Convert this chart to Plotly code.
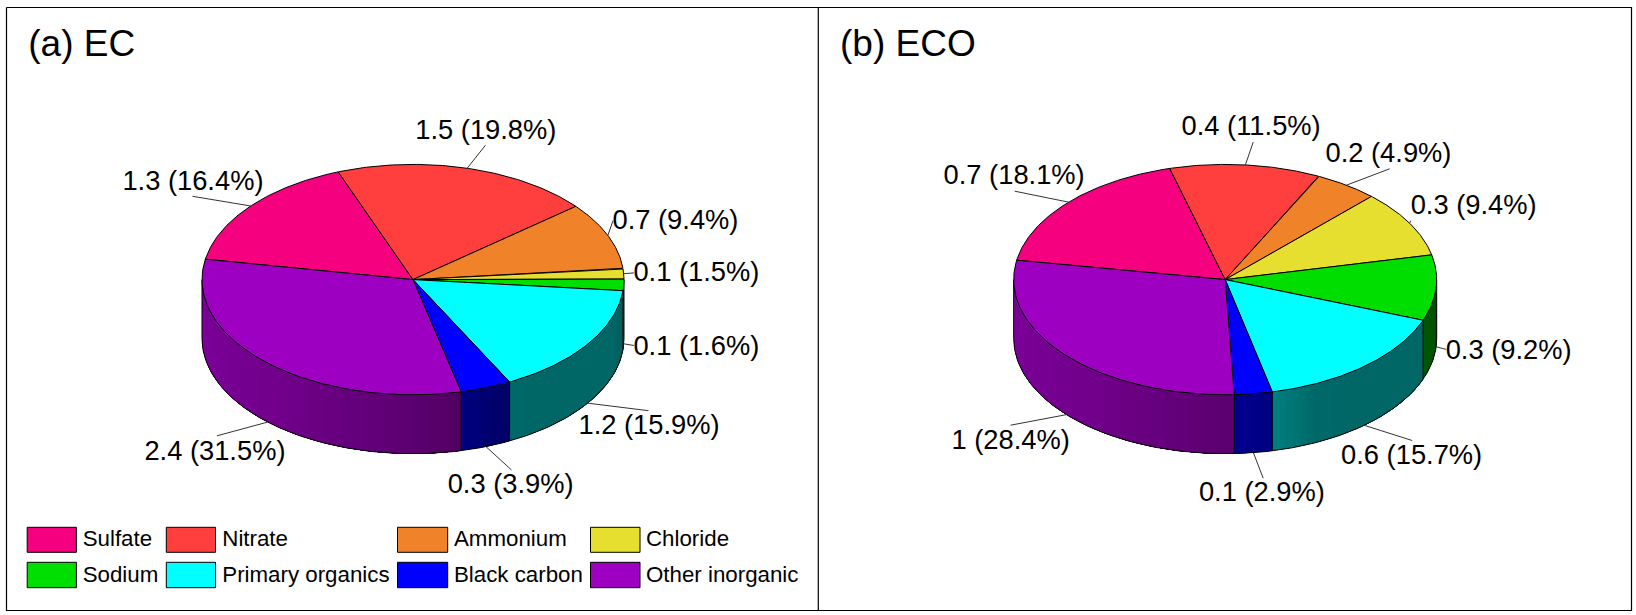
import numpy as np
import plotly.graph_objects as go

# ---- data ----
categories = ["Sulfate", "Nitrate", "Ammonium", "Chloride", "Sodium",
              "Primary organics", "Black carbon", "Other inorganic"]
ec_values = [1.3, 1.5, 0.7, 0.1, 0.1, 1.2, 0.3, 2.4]
ec_percent = [16.4, 19.8, 9.4, 1.5, 1.6, 15.9, 3.9, 31.5]
eco_values = [0.7, 0.4, 0.2, 0.3, 0.3, 0.6, 0.1, 1]
eco_percent = [18.1, 11.5, 4.9, 9.4, 9.2, 15.7, 2.9, 28.4]
titles = ["(a) EC", "(b) ECO"]

# ---- style and layout ----
colors = ["#F5007F", "#FF3E3E", "#F0822A", "#E6DF2F", "#00DE00", "#00FFFF", "#0000FF", "#9E00C2"]
FONT = "Liberation Sans"
W, H = 1636, 615
PIE_A = dict(cx=413.0, cy=279.6, rx=211.0, ry=115.2, depth=58.9, start=169.8)
PIE_B = dict(cx=1225.2, cy=279.6, rx=211.5, ry=115.2, depth=58.9, start=170.3)
LABEL_A = [(122.4, 183.1), (415.3, 132.1), (612.5, 222.4), (633.4, 274.2),
           (633.4, 348.0), (578.5, 427.3), (447.7, 486.2), (144.4, 453.2)]
LEADER_A = [(192.5, 196.3), (485.4, 145.3), (613.0, 220.7), (633.9, 272.9),
            (633.9, 345.5), (648.5, 410.7), (511.5, 470.0), (217.0, 435.8)]
LABEL_B = [(943.6, 177.2), (1181.6, 128.1), (1325.5, 155.6), (1410.7, 206.7),
           (1445.7, 351.9), (1341.1, 457.2), (1198.9, 494.1), (951.5, 442.2)]
LEADER_B = [(1014.7, 191.2), (1253.2, 142.1), (1389.7, 168.8), (1410.7, 220.7),
            (1446.2, 349.4), (1412.2, 440.5), (1263.2, 478.2), (1010.6, 425.2)]
TITLE_POS = [(28.3, 46.5), (840.0, 46.5)]
LEG_COLS = [(27.2, 76.4, 82.7), (166.3, 215.5, 222.3), (397.5, 447.7, 454.0), (590.5, 640.0, 646.0)]
LEG_ROWS = [(527.3, 552.3), (562.3, 587.7)]
LEG_TEXT_DY = 1.0
SHADE_ANGLE = [-180, -130, -90, -77, -65, -50, -20, 0]
SHADE_VALUE = [0.80, 0.72, 0.58, 0.50, 0.41, 0.40, 0.40, 0.34]

fig = go.Figure()


def poly(xs, ys, fill=None, line="black", width=1.0):
    fig.add_trace(go.Scatter(
        x=list(xs), y=list(ys), mode="lines",
        fill="toself" if fill else "none", fillcolor=fill,
        line=dict(color=line, width=width), hoverinfo="skip", showlegend=False))


def text(x, y, s, size):
    fig.add_trace(go.Scatter(
        x=[x], y=[y], mode="text", text=[s], textposition="middle right",
        textfont=dict(family=FONT, size=size, color="black"),
        hoverinfo="skip", showlegend=False))


def shaded(color, k):
    r, g, b = (int(color[i:i + 2], 16) for i in (1, 3, 5))
    return f"rgb({r * k:.0f},{g * k:.0f},{b * k:.0f})"


def draw_pie(percent, values, p, label_pos, leader_pos):
    cx, cy, rx, ry, d = p["cx"], p["cy"], p["rx"], p["ry"], p["depth"]
    ex = lambda t: cx + rx * np.cos(np.radians(t))
    ey = lambda t: cy - ry * np.sin(np.radians(t))
    total = sum(percent)
    edges = p["start"] - np.concatenate([[0], np.cumsum(percent)]) * 360 / total

    # side wall: the part of the rim facing the viewer, in overlapping shaded strips
    cuts = [-180.0] + sorted(
        {float(((e + 180) % 360) - 180) for e in edges if np.sin(np.radians(e)) < 0}) + [0.0]
    for a, b in zip(cuts[:-1], cuts[1:]):
        mid = (a + b) / 2
        for i in range(len(percent)):
            hi, lo = edges[i], edges[i + 1]
            if any(lo <= m <= hi for m in (mid, mid - 360, mid + 360)):
                seg_color = colors[i]
        n = max(2, int(np.ceil((b - a) / 2)))
        ts = np.linspace(a, b, n + 1)
        for t0, t1 in zip(ts[:-1], ts[1:]):
            col = shaded(seg_color, float(np.interp((t0 + t1) / 2, SHADE_ANGLE, SHADE_VALUE)))
            arc = np.linspace(t0, b, 24)      # reaches to the segment end; later strips paint over it
            xs = np.concatenate([ex(arc), ex(arc[::-1])])
            ys = np.concatenate([ey(arc), ey(arc[::-1]) + d])
            poly(np.append(xs, xs[0]), np.append(ys, ys[0]), fill=col, line=col, width=0)

    # side wall outline and vertical edges
    arc = np.linspace(-180, 0, 181)
    poly(ex(arc), ey(arc) + d)
    for c in cuts:
        poly([ex(c), ex(c)], [ey(c), ey(c) + d])

    # top face wedges
    for i in range(len(percent)):
        arc = np.linspace(edges[i], edges[i + 1], 90)
        xs = np.concatenate([[cx], ex(arc), [cx]])
        ys = np.concatenate([[cy], ey(arc), [cy]])
        poly(xs, ys, fill=colors[i])

    # leader lines and labels
    for i in range(len(percent)):
        m = (edges[i] + edges[i + 1]) / 2
        y0 = ey(m) + (d if np.sin(np.radians(m)) < 0 else 0)
        poly([ex(m), leader_pos[i][0]], [y0, leader_pos[i][1]], line="#333333", width=1)
        text(label_pos[i][0], label_pos[i][1], f"{values[i]} ({percent[i]}%)", 27.3)


draw_pie(ec_percent, ec_values, PIE_A, LABEL_A, LEADER_A)
draw_pie(eco_percent, eco_values, PIE_B, LABEL_B, LEADER_B)

# titles
for (x, y), t in zip(TITLE_POS, titles):
    text(x, y, t, 37)

# legend
for i, name in enumerate(categories):
    x0, x1, xt = LEG_COLS[i % 4]
    y0, y1 = LEG_ROWS[i // 4]
    poly([x0, x1, x1, x0, x0], [y0, y0, y1, y1, y0], fill=colors[i])
    text(xt, (y0 + y1) / 2 + LEG_TEXT_DY, name, 22.3)

# frames
poly([6.5, 1631.5, 1631.5, 6.5, 6.5], [7.5, 7.5, 610.5, 610.5, 7.5], width=1.2)
poly([818.3, 818.3], [7.5, 610.5], width=1.2)

fig.update_layout(
    width=W, height=H, margin=dict(l=0, r=0, t=0, b=0, pad=0),
    paper_bgcolor="white", plot_bgcolor="white", showlegend=False,
    xaxis=dict(range=[0, W], visible=False, fixedrange=True),
    yaxis=dict(range=[H, 0], visible=False, fixedrange=True),
)
fig.write_html("out.html", config=dict(displayModeBar=False),
               post_script="document.body.style.margin='0';document.body.style.overflow='hidden';")
